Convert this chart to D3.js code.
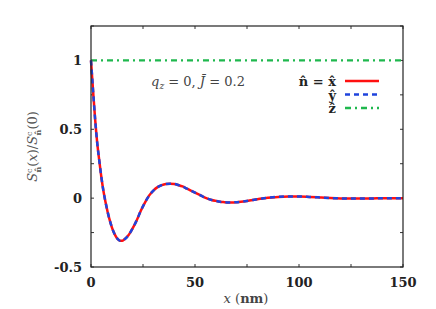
<!DOCTYPE html>
<html>
<head>
<meta charset="utf-8">
<script src="https://cdn.jsdelivr.net/npm/d3@7"></script>
<style>
  body { margin: 0; background: #fff; }
  text { font-family: "DejaVu Serif", "Liberation Serif", serif; }
</style>
</head>
<body>
<div id="chart"></div>
<script>
// data
var xs = [0, 1, 2, 3, 4, 5, 6, 7, 8, 9, 10, 11, 12, 13, 14, 15, 16, 18, 20, 22, 24, 26, 28, 30, 32, 34, 36, 38, 40, 42, 44, 46, 48, 50, 52, 54, 56, 58, 60, 62, 64, 66, 68, 70, 72, 75, 80, 85, 90, 95, 100, 105, 110, 115, 120, 125, 130, 135, 140, 145, 150];
var sx = [1.0, 0.78, 0.57, 0.40, 0.27, 0.15, 0.05, -0.03, -0.10, -0.16, -0.21, -0.25, -0.28, -0.30, -0.31, -0.31, -0.30, -0.27, -0.22, -0.16, -0.09, -0.03, 0.02, 0.055, 0.08, 0.095, 0.103, 0.105, 0.103, 0.095, 0.085, 0.07, 0.055, 0.04, 0.025, 0.01, -0.003, -0.013, -0.02, -0.026, -0.029, -0.031, -0.031, -0.029, -0.026, -0.02, -0.008, 0.003, 0.009, 0.012, 0.012, 0.009, 0.005, 0.001, -0.002, -0.003, -0.003, -0.002, -0.001, 0, 0];
var sy = sx.slice();          // y curve sits exactly on x curve
var sz = xs.map(function(){ return 1; });

var xTickLabels = [0, 50, 100, 150];
var yTickLabels = [-0.5, 0, 0.5, 1];
var legendLabels = ["x", "y", "z"];

var margin = {top: 26, right: 33, bottom: 42, left: 91},
    width = 436 - margin.left - margin.right,
    height = 309 - margin.top - margin.bottom;

var svg = d3.select("#chart").append("svg")
    .attr("width", 436)
    .attr("height", 309)
    .append("g")
    .attr("transform", `translate(${margin.left},${margin.top})`);

var x = d3.scaleLinear().domain([0, 150]).range([0, width]);
var y = d3.scaleLinear().domain([-0.5, 1.25]).range([height, 0]);

//ticks (inward, mirrored)
var xt = d3.range(0, 151, 25), yt = d3.range(-0.5, 1.26, 0.25);
xt.forEach(function(v){
    svg.append("line").attr("x1", x(v)).attr("x2", x(v)).attr("y1", height).attr("y2", height - 3).attr("stroke", "#333");
    svg.append("line").attr("x1", x(v)).attr("x2", x(v)).attr("y1", 0).attr("y2", 3).attr("stroke", "#333");
});
yt.forEach(function(v){
    svg.append("line").attr("x1", 0).attr("x2", 3).attr("y1", y(v)).attr("y2", y(v)).attr("stroke", "#333");
    svg.append("line").attr("x1", width).attr("x2", width - 3).attr("y1", y(v)).attr("y2", y(v)).attr("stroke", "#333");
});

//tick labels
svg.selectAll(".xl").data(xTickLabels).enter().append("text")
    .attr("x", function(d){ return x(d); })
    .attr("y", height + 20)
    .attr("text-anchor", "middle")
    .style("font-size", "13px").style("font-weight", "bold")
    .attr("fill", "#222")
    .text(function(d){ return d; });

svg.selectAll(".yl").data(yTickLabels).enter().append("text")
    .attr("x", -9)
    .attr("y", function(d){ return y(d) + 5; })
    .attr("text-anchor", "end")
    .style("font-size", "13px").style("font-weight", "bold")
    .attr("fill", "#222")
    .text(function(d){ return d; });

//lines
var line = function(vals){
    return d3.line().curve(d3.curveMonotoneX)
        .x(function(d, i){ return x(xs[i]); })
        .y(function(d){ return y(d); })(vals);
};

svg.append("path").attr("d", line(sz)).attr("fill", "none")
    .attr("stroke", "#1fb84e").attr("stroke-width", 2.2).attr("stroke-dasharray", "6,4,2,4");
svg.append("path").attr("d", line(sx)).attr("fill", "none")
    .attr("stroke", "#ff1010").attr("stroke-width", 2.5);
svg.append("path").attr("d", line(sy)).attr("fill", "none")
    .attr("stroke", "#1f44dd").attr("stroke-width", 2.5).attr("stroke-dasharray", "5,4");

//frame
svg.append("rect").attr("width", width).attr("height", height)
    .attr("fill", "none").attr("stroke", "#222").attr("stroke-width", 1.2);

//annotation
var ann = svg.append("text").attr("x", 107).attr("y", 60)
    .attr("text-anchor", "middle").style("font-size", "13px").attr("fill", "#444");
ann.append("tspan").style("font-style", "italic").text("q");
ann.append("tspan").style("font-style", "italic").style("font-size", "9px").attr("dy", 3).text("z");
ann.append("tspan").attr("dy", -3).text(" = 0,  ");
ann.append("tspan").style("font-style", "italic").text("J\u0304");
ann.append("tspan").text(" = 0.2");

//legend
var legendRows = [
    {label: "n\u0302 = x\u0302", color: "#ff1010", dash: null},
    {label: "y\u0302", color: "#1f44dd", dash: "5,4"},
    {label: "z\u0302", color: "#1fb84e", dash: "6,4,2,4"}
];
legendRows.forEach(function(r, i){
    var ly = 55 + i * 13.5;
    svg.append("text").attr("x", 245).attr("y", ly + 5)
        .attr("text-anchor", "end").style("font-size", "13px").style("font-weight", "bold")
        .attr("fill", "#222").text(r.label);
    svg.append("line").attr("x1", 254).attr("x2", 288).attr("y1", ly).attr("y2", ly)
        .attr("stroke", r.color).attr("stroke-width", 2.5)
        .attr("stroke-dasharray", r.dash);
});

//axis titles
var xlab = svg.append("text").attr("x", 155).attr("y", height + 36)
    .attr("text-anchor", "middle").style("font-size", "13px").attr("fill", "#444");
xlab.append("tspan").style("font-style", "italic").text("x");
xlab.append("tspan").text(" (");
xlab.append("tspan").style("font-weight", "bold").text("nm");
xlab.append("tspan").text(")");

var ylab = svg.append("text").attr("transform", `translate(-54,${height / 2}) rotate(-90)`)
    .attr("text-anchor", "middle").style("font-size", "13px").attr("fill", "#555");
ylab.append("tspan").style("font-style", "italic").text("S");
ylab.append("tspan").style("font-size", "8px").attr("dy", -5).text("c");
ylab.append("tspan").style("font-size", "8px").style("font-weight", "bold").attr("dx", -4).attr("dy", 9).text("n\u0302");
ylab.append("tspan").attr("dy", -4).text("(");
ylab.append("tspan").style("font-style", "italic").text("x");
ylab.append("tspan").text(")/");
ylab.append("tspan").style("font-style", "italic").text("S");
ylab.append("tspan").style("font-size", "8px").attr("dy", -5).text("c");
ylab.append("tspan").style("font-size", "8px").style("font-weight", "bold").attr("dx", -4).attr("dy", 9).text("n\u0302");
ylab.append("tspan").attr("dy", -4).text("(0)");
</script>
</body>
</html>
